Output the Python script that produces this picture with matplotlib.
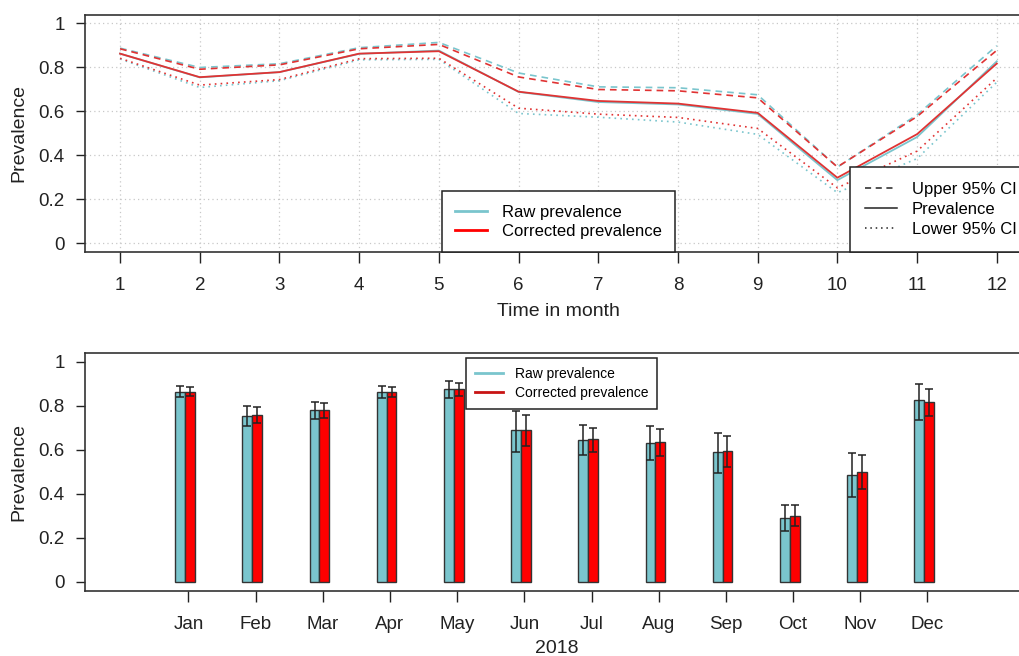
import numpy as np
import matplotlib.pyplot as plt
from matplotlib.lines import Line2D

plt.rcParams['font.family'] = ['Liberation Sans', 'DejaVu Sans']

months = np.arange(1, 13)
month_names = ['Jan', 'Feb', 'Mar', 'Apr', 'May', 'Jun',
               'Jul', 'Aug', 'Sep', 'Oct', 'Nov', 'Dec']

# prevalence and 95% CI
raw_prev = [0.863, 0.755, 0.779, 0.862, 0.877, 0.689, 0.643, 0.632, 0.589, 0.288, 0.484, 0.828]
raw_upper = [0.888, 0.800, 0.817, 0.890, 0.914, 0.775, 0.712, 0.708, 0.676, 0.347, 0.585, 0.899]
raw_lower = [0.839, 0.709, 0.740, 0.835, 0.837, 0.591, 0.574, 0.552, 0.496, 0.231, 0.386, 0.733]

cor_prev = [0.863, 0.756, 0.779, 0.863, 0.874, 0.690, 0.648, 0.636, 0.594, 0.299, 0.497, 0.818]
cor_upper = [0.885, 0.792, 0.812, 0.885, 0.905, 0.757, 0.700, 0.694, 0.662, 0.348, 0.577, 0.878]
cor_lower = [0.842, 0.720, 0.745, 0.840, 0.842, 0.615, 0.588, 0.573, 0.523, 0.253, 0.420, 0.752]

raw_col = '#7AC5CD'
cor_line_col = '#E03333'
cor_bar_col = '#FF0000'
ink = '#222222'

fig = plt.figure(figsize=(10.19, 6.56), dpi=100)

# ---- top: lines over months
ax1 = fig.add_axes([0.0834, 0.6154, 0.9292, 0.3622])
dash = (0, (4, 3))
dot = (0, (1, 2.5))
for prev, up, lo, col in [(raw_prev, raw_upper, raw_lower, raw_col),
                          (cor_prev, cor_upper, cor_lower, cor_line_col)]:
    ax1.plot(months, up, color=col, lw=1.2, linestyle=dash)
    ax1.plot(months, prev, color=col, lw=1.3)
    ax1.plot(months, lo, color=col, lw=1.2, linestyle=dot)

ax1.set_xlim(0.56, 12.44)
ax1.set_ylim(-0.04, 1.04)
ax1.set_xticks(months)
ax1.set_xticklabels([str(m) for m in months])
ax1.set_yticks([0, 0.2, 0.4, 0.6, 0.8, 1.0])
ax1.set_yticklabels(['0', '0.2', '0.4', '0.6', '0.8', '1'])
ax1.grid(True, color='#C8C8C8', linestyle=(0, (1, 2.5)), lw=0.9)
ax1.set_axisbelow(True)
ax1.set_xlabel('Time in month', fontsize=14, color=ink, labelpad=6)
ax1.set_ylabel('Prevalence', fontsize=14, color=ink, labelpad=8)
ax1.tick_params(axis='x', length=8, pad=10, labelsize=13.5, colors=ink, width=1)
ax1.tick_params(axis='y', length=6.5, pad=8, labelsize=13.5, colors=ink, width=1)

leg1 = ax1.legend(handles=[Line2D([], [], color=raw_col, lw=2),
                           Line2D([], [], color=cor_bar_col, lw=2)],
                  labels=['Raw prevalence', 'Corrected prevalence'],
                  loc='lower center', borderaxespad=0, fontsize=12,
                  fancybox=False, framealpha=1, edgecolor=ink,
                  handlelength=1.9, handletextpad=0.9, labelspacing=0.25,
                  borderpad=0.8)
leg1.get_frame().set_linewidth(1.1)
ax1.add_artist(leg1)
leg2 = ax1.legend(handles=[Line2D([], [], color=ink, lw=1.1, linestyle=dash),
                           Line2D([], [], color=ink, lw=1.1),
                           Line2D([], [], color=ink, lw=1.1, linestyle=dot)],
                  labels=['Upper 95% CI', 'Prevalence', 'Lower 95% CI'],
                  loc='lower right', borderaxespad=0, fontsize=12,
                  fancybox=False, framealpha=1, edgecolor=ink,
                  handlelength=1.9, handletextpad=0.9, labelspacing=0.3,
                  borderpad=0.9)
leg2.get_frame().set_linewidth(1.1)

# ---- bottom: bars with error bars
ax2 = fig.add_axes([0.0834, 0.0996, 0.9257, 0.3625])
w = 0.146
centers = months - 0.05
ax2.bar(centers - w / 2, raw_prev, width=w, color=raw_col, edgecolor='#333333', lw=1)
ax2.bar(centers + w / 2, cor_prev, width=w, color=cor_bar_col, edgecolor='#333333', lw=1)
raw_err = [np.array(raw_prev) - np.array(raw_lower), np.array(raw_upper) - np.array(raw_prev)]
cor_err = [np.array(cor_prev) - np.array(cor_lower), np.array(cor_upper) - np.array(cor_prev)]
ax2.errorbar(centers - w / 2, raw_prev, yerr=raw_err, fmt='none', ecolor=ink,
             elinewidth=1.1, capsize=2.8, capthick=1.1)
ax2.errorbar(centers + w / 2, cor_prev, yerr=cor_err, fmt='none', ecolor=ink,
             elinewidth=1.1, capsize=2.8, capthick=1.1)

ax2.set_xlim(-0.54, 13.5)
ax2.set_ylim(-0.04, 1.04)
ax2.set_xticks(months)
ax2.set_xticklabels(month_names)
ax2.set_yticks([0, 0.2, 0.4, 0.6, 0.8, 1.0])
ax2.set_yticklabels(['0', '0.2', '0.4', '0.6', '0.8', '1'])
ax2.set_xlabel('2018', fontsize=14, color=ink, labelpad=5)
ax2.set_ylabel('Prevalence', fontsize=14, color=ink, labelpad=8)
ax2.tick_params(axis='x', length=8, pad=10, labelsize=13.5, colors=ink, width=1)
ax2.tick_params(axis='y', length=6.5, pad=8, labelsize=13.5, colors=ink, width=1)

leg3 = ax2.legend(handles=[Line2D([], [], color=raw_col, lw=2),
                           Line2D([], [], color='#C81414', lw=2)],
                  labels=['Raw prevalence', 'Corrected prevalence'],
                  loc='upper left', bbox_to_anchor=(5.13, 1.017),
                  bbox_transform=ax2.transData, borderaxespad=0, fontsize=10,
                  fancybox=False, framealpha=1, edgecolor=ink,
                  handlelength=2.0, handletextpad=0.85, labelspacing=0.35,
                  borderpad=0.65)
leg3.get_frame().set_linewidth(1.1)

for ax in (ax1, ax2):
    for s in ax.spines.values():
        s.set_color('#333333')
        s.set_linewidth(1.2)

fig.savefig('out.png', dpi=100)
